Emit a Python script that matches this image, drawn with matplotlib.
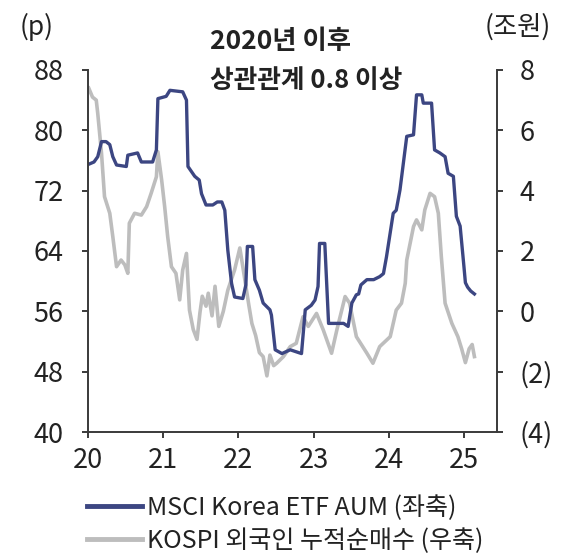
import matplotlib
matplotlib.use("Agg")
import matplotlib.pyplot as plt
from matplotlib.lines import Line2D

plt.rcParams['font.family'] = ['Noto Sans CJK KR', 'DejaVu Sans']

# MSCI Korea ETF AUM (left axis, p)
aum_x = [20.01, 20.08, 20.13, 20.18, 20.24, 20.29, 20.33, 20.38, 20.51, 20.53, 20.66,
         20.71, 20.86, 20.91, 20.93, 21.04, 21.09, 21.26, 21.31, 21.33, 21.42, 21.48,
         21.51, 21.57, 21.66, 21.72, 21.78, 21.82, 21.86, 21.91, 21.95, 22.06, 22.10,
         22.12, 22.19, 22.22, 22.28, 22.33, 22.42, 22.44, 22.49, 22.58, 22.69, 22.84,
         22.89, 22.97, 23.02, 23.06, 23.08, 23.15, 23.20, 23.40, 23.46, 23.51, 23.57,
         23.60, 23.63, 23.71, 23.80, 23.88, 23.93, 23.97, 24.06, 24.10, 24.15, 24.24,
         24.33, 24.37, 24.44, 24.46, 24.57, 24.61, 24.68, 24.75, 24.79, 24.86, 24.90,
         24.95, 25.00, 25.02, 25.05, 25.09, 25.14]
aum_y = [75.5, 75.8, 76.5, 78.5, 78.5, 78.1, 76.5, 75.4, 75.2, 76.7, 77.0,
         75.8, 75.8, 77.4, 84.2, 84.5, 85.3, 85.1, 84.0, 75.2, 73.9, 73.4,
         71.6, 70.1, 70.1, 70.5, 70.5, 69.4, 64.1, 59.7, 57.9, 57.7, 59.5,
         64.6, 64.6, 60.2, 58.8, 57.1, 56.2, 55.5, 50.9, 50.4, 50.9, 50.4,
         56.2, 56.8, 57.5, 59.3, 65.0, 65.0, 54.4, 54.4, 54.0, 57.1, 58.2,
         58.3, 59.5, 60.2, 60.2, 60.6, 61.0, 63.2, 69.0, 69.4, 72.1, 79.2,
         79.4, 84.7, 84.7, 83.6, 83.6, 77.4, 77.0, 76.5, 74.3, 73.9, 68.6,
         67.3, 62.0, 59.8, 59.2, 58.7, 58.3]

# KOSPI foreign cumulative net buying (right axis, trillion won)
kospi_x = [20.01, 20.06, 20.11, 20.13, 20.18, 20.22, 20.29, 20.33, 20.38, 20.44, 20.49,
           20.53, 20.55, 20.62, 20.71, 20.78, 20.84, 20.91, 20.93, 20.98, 21.02, 21.06,
           21.11, 21.17, 21.22, 21.26, 21.31, 21.35, 21.40, 21.45, 21.49, 21.52, 21.57,
           21.60, 21.65, 21.69, 21.74, 21.80, 21.86, 21.95, 22.02, 22.08, 22.14, 22.18,
           22.23, 22.28, 22.33, 22.38, 22.42, 22.47, 22.51, 22.60, 22.69, 22.77, 22.86,
           22.93, 23.04, 23.13, 23.24, 23.31, 23.42, 23.48, 23.57, 23.71, 23.79, 23.88,
           24.02, 24.10, 24.17, 24.22, 24.24, 24.33, 24.37, 24.44, 24.48, 24.55, 24.61,
           24.66, 24.70, 24.75, 24.84, 24.92, 24.97, 25.02, 25.07, 25.11, 25.14]
kospi_y = [7.4, 7.1, 7.0, 6.56, 5.24, 3.8, 3.25, 2.48, 1.48, 1.7, 1.54,
           1.26, 2.92, 3.25, 3.19, 3.47, 3.91, 4.46, 5.29, 4.35, 3.47, 2.48,
           1.48, 1.26, 0.38, 1.37, 1.92, 0.04, -0.6, -0.93, -0.03, 0.5, 0.17,
           0.6, -0.15, 0.83, -0.5, 0.0, 0.7, 1.37, 2.1, 1.15, 0.2, -0.4,
           -0.8, -1.37, -1.5, -2.14, -1.45, -1.8, -1.72, -1.5, -1.17, -1.06, -0.18,
           -0.5, -0.07, -0.62, -1.39, -0.62, 0.49, 0.27, -0.84, -1.39, -1.72, -1.17,
           -0.84, 0.04, 0.27, 0.93, 1.7, 2.81, 3.03, 2.7, 3.36, 3.91, 3.8,
           3.25, 1.81, 0.27, -0.4, -0.84, -1.24, -1.7, -1.24, -1.1, -1.5]

year_ticks = [20, 21, 22, 23, 24, 25]
left_ticks = [40, 48, 56, 64, 72, 80, 88]
right_ticks = [-4, -2, 0, 2, 4, 6, 8]

blue = '#3c4682'
gray = '#bdbdbd'
axis_col = '#3a3a3a'
txt_col = '#222222'

fig = plt.figure(figsize=(5.75, 5.57), dpi=100)
ax = fig.add_axes([0.153, 0.2244, 0.7113, 0.65])
ax2 = ax.twinx()

ax2.plot(kospi_x, kospi_y, color=gray, lw=2.6)
ax.plot(aum_x, aum_y, color=blue, lw=2.4)
ax.set_zorder(ax2.get_zorder() + 1)
ax.patch.set_visible(False)

ax.set_xlim(20, 25.44)
ax.set_ylim(40, 88)
ax2.set_ylim(-4, 8)
ax.set_xticks(year_ticks)
ax.set_yticks(left_ticks)
ax2.set_yticks(right_ticks)
ax2.set_yticklabels([f'({-t})' if t < 0 else str(t) for t in right_ticks])

for a in (ax, ax2):
    a.spines['top'].set_visible(False)
    for s in ('left', 'right', 'bottom'):
        a.spines[s].set_color(axis_col)
        a.spines[s].set_linewidth(1.4)
ax.spines['right'].set_visible(False)
ax2.spines['left'].set_visible(False)
ax2.spines['bottom'].set_visible(False)

ax.tick_params(axis='y', length=4.5, width=1.4, color=axis_col, pad=13, labelsize=19.5, labelcolor=txt_col)
ax.tick_params(axis='x', length=4.5, width=1.4, color=axis_col, pad=6, labelsize=19.5, labelcolor=txt_col)
ax2.tick_params(axis='y', length=4.5, width=1.4, color=axis_col, pad=12, labelsize=19.5, labelcolor=txt_col)

fig.text(0.063, 0.9515, '(p)', ha='center', va='center', fontsize=19, color=txt_col)
fig.text(0.90, 0.9515, '(조원)', ha='center', va='center', fontsize=19, color=txt_col)
fig.text(0.365, 0.9246, '2020년 이후', ha='left', va='center', fontsize=19, fontweight='bold', color=txt_col)
fig.text(0.365, 0.856, '상관관계 0.8 이상', ha='left', va='center', fontsize=18.5, fontweight='bold', color=txt_col)

handles = [Line2D([], [], color=blue, lw=3.5), Line2D([], [], color=gray, lw=3.5)]
labels = ['MSCI Korea ETF AUM (좌축)', 'KOSPI 외국인 누적순매수 (우축)']
fig.legend(handles, labels, loc='upper left', bbox_to_anchor=(0.151, 0.112),
           frameon=False, fontsize=18, handlelength=2.2, handletextpad=0.2,
           labelspacing=0.3, borderpad=0, borderaxespad=0, labelcolor=txt_col)

fig.savefig('out.png', dpi=100)
